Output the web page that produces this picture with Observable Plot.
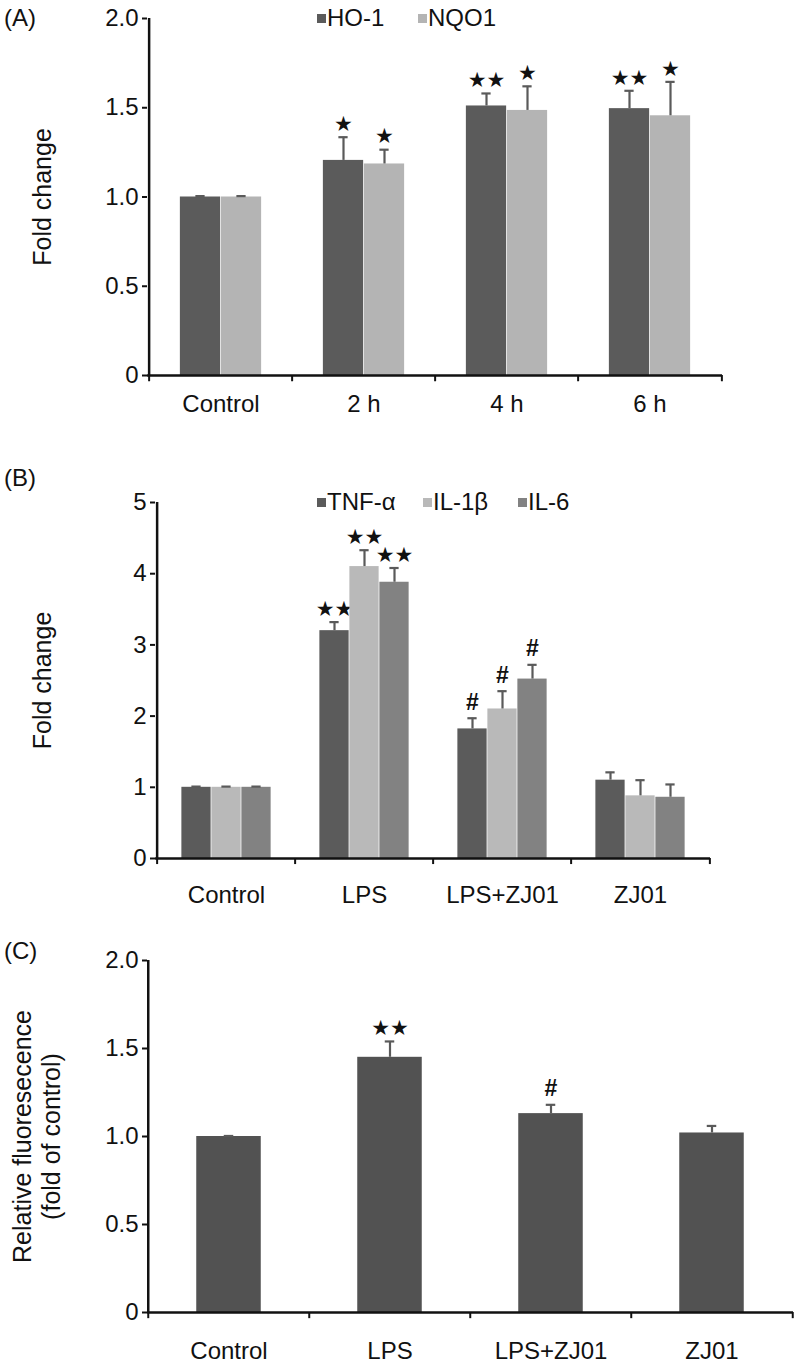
<!DOCTYPE html>
<html><head><meta charset="utf-8">
<script src="https://cdn.jsdelivr.net/npm/d3@7"></script>
<script src="https://cdn.jsdelivr.net/npm/@observablehq/plot@0.6"></script>
<style>
body{margin:0;background:#fff;}
#wrap{position:relative;width:800px;height:1368px;overflow:hidden;font-family:"Liberation Sans",Arial,sans-serif;color:#111;}
.panel{position:absolute;left:0;}
.plab{position:absolute;left:4px;font-size:24px;line-height:24px;}
.legtxt{position:absolute;font-size:24px;line-height:24px;white-space:nowrap;}
.sw{position:absolute;width:9px;height:9px;}
</style></head><body><div id="wrap"></div>
<script>
// ---------- data ----------
const catsA = ["Control", "2 h", "4 h", "6 h"];
const ho1 = [1.0, 1.205, 1.51, 1.495];
const ho1Err = [0.005, 0.13, 0.07, 0.10];
const ho1Sig = ["", "★", "★★", "★★"];
const nqo1 = [1.0, 1.185, 1.485, 1.455];
const nqo1Err = [0.005, 0.08, 0.135, 0.19];
const nqo1Sig = ["", "★", "★", "★"];
const ticksA = [0, 0.5, 1.0, 1.5, 2.0];

const catsB = ["Control", "LPS", "LPS+ZJ01", "ZJ01"];
const tnf = [1.0, 3.2, 1.82, 1.1];
const tnfErr = [0.01, 0.12, 0.15, 0.11];
const tnfSig = ["", "★★", "#", ""];
const il1b = [1.0, 4.1, 2.1, 0.88];
const il1bErr = [0.01, 0.23, 0.25, 0.22];
const il1bSig = ["", "★★", "#", ""];
const il6 = [1.0, 3.88, 2.52, 0.86];
const il6Err = [0.01, 0.2, 0.2, 0.18];
const il6Sig = ["", "★★", "#", ""];
const ticksB = [0, 1, 2, 3, 4, 5];

const catsC = ["Control", "LPS", "LPS+ZJ01", "ZJ01"];
const fluor = [1.0, 1.45, 1.13, 1.02];
const fluorErr = [0.003, 0.09, 0.05, 0.04];
const fluorSig = ["", "★★", "#", ""];
const ticksC = [0, 0.5, 1.0, 1.5, 2.0];

// ---------- drawing ----------
const wrap = document.getElementById("wrap");
const errColor = "#5a5a5a";
const axisColor = "#111";

function panel(cfg) {
  const {cats, series, domain, ticks, fmt, top, height, ml, mr, mt, mb, bw, ylabel, ylabelX, ylabelSize, xPad, tickLen} = cfg;
  const width = 800;
  const k = series.length;
  const B = (width - ml - mr) / cats.length;
  const yMax = domain[1];
  const marks = [];
  series.forEach((s, i) => {
    const rows = cats.map((c, j) => ({c, v: s.values[j], e: s.errs[j], sig: s.sigs[j]}));
    const left = B / 2 + (i - k / 2) * bw;
    const right = B - left - bw;
    const dx = (i - k / 2 + 0.5) * bw;
    marks.push(Plot.barY(rows, {x: "c", y: "v", fill: s.color, insetLeft: left, insetRight: right}));
    marks.push(Plot.ruleX(rows, {x: "c", y1: "v", y2: d => d.v + d.e, dx, stroke: errColor, strokeWidth: 2.2}));
    marks.push(Plot.tickY(rows, {x: "c", y: d => d.v + d.e, insetLeft: left + bw / 2 - 5, insetRight: right + bw / 2 - 5, stroke: errColor, strokeWidth: 2.2}));
    marks.push(Plot.text(rows.filter(d => d.sig.includes("★")), {x: "c", y: d => d.v + d.e, text: "sig", dx, dy: -13, fontSize: 21, fill: "#111", fontFamily: "DejaVu Sans", letterSpacing: -1}));
    marks.push(Plot.text(rows.filter(d => d.sig === "#"), {x: "c", y: d => d.v + d.e, text: "sig", dx, dy: -16, fontSize: 23, fill: "#111", fontWeight: "bold"}));
  });
  // axes lines
  marks.push(Plot.ruleY([0], {stroke: axisColor, strokeWidth: 2.5}));
  marks.push(Plot.ruleX([cats[0]], {x: d => d, y1: 0, y2: yMax, dx: -B / 2, stroke: axisColor, strokeWidth: 2.5}));
  marks.push(Plot.ruleX(cats, {x: d => d, y1: 0, y2: -tickLen, dx: -B / 2, stroke: axisColor, strokeWidth: 2}));
  marks.push(Plot.ruleX([cats[cats.length - 1]], {x: d => d, y1: 0, y2: -tickLen, dx: B / 2, stroke: axisColor, strokeWidth: 2}));
  marks.push(Plot.axisY({ticks, tickFormat: fmt, tickSize: 5, tickPadding: 4, fontSize: 24, label: null, stroke: axisColor, strokeWidth: 2}));
  marks.push(Plot.axisX({tickSize: 0, tickPadding: xPad, fontSize: 24, label: null}));
  // y label
  ylabel.forEach((t, li) => {
    marks.push(Plot.text([t], {text: d => d, frameAnchor: "left", textAnchor: "middle", rotate: -90, dx: ylabelX[li] - ml, fontSize: ylabelSize, fill: "#111"}));
  });
  const svg = Plot.plot({
    width, height,
    marginLeft: ml, marginRight: mr, marginTop: mt, marginBottom: mb,
    style: {fontFamily: "'Liberation Sans', Arial, sans-serif", color: "#111", background: "transparent", overflow: "visible"},
    x: {type: "band", domain: cats, padding: 0, axis: null},
    y: {domain, axis: null},
    marks
  });
  const d = document.createElement("div");
  d.className = "panel";
  d.style.top = top + "px";
  d.appendChild(svg);
  wrap.appendChild(d);
}

function legend(items, y) {
  items.forEach(([name, color, x]) => {
    const sw = document.createElement("div");
    sw.className = "sw";
    sw.style.background = color;
    sw.style.left = x + "px";
    sw.style.top = (y - 4) + "px";
    wrap.appendChild(sw);
    const t = document.createElement("div");
    t.className = "legtxt";
    t.textContent = name;
    t.style.left = (x + 10) + "px";
    t.style.top = (y - 12) + "px";
    wrap.appendChild(t);
  });
}

function plabel(text, top) {
  const d = document.createElement("div");
  d.className = "plab";
  d.textContent = text;
  d.style.top = top + "px";
  wrap.appendChild(d);
}

const fmt1 = v => v === 0 ? "0" : v.toFixed(1);

panel({
  cats: catsA,
  series: [
    {values: ho1, errs: ho1Err, sigs: ho1Sig, color: "#5b5b5b"},
    {values: nqo1, errs: nqo1Err, sigs: nqo1Sig, color: "#b4b4b4"}
  ],
  domain: [0, 2], ticks: ticksA, fmt: fmt1,
  top: 0, height: 420, ml: 147, mr: 78, mt: 18, mb: 45, bw: 41,
  ylabel: ["Fold change"], ylabelX: [42], ylabelSize: 25, xPad: 19, tickLen: 0.035
});
panel({
  cats: catsB,
  series: [
    {values: tnf, errs: tnfErr, sigs: tnfSig, color: "#5b5b5b"},
    {values: il1b, errs: il1bErr, sigs: il1bSig, color: "#b9b9b9"},
    {values: il6, errs: il6Err, sigs: il6Sig, color: "#828282"}
  ],
  domain: [0, 5], ticks: ticksB, fmt: v => String(v),
  top: 460, height: 440, ml: 155, mr: 90, mt: 42, mb: 42, bw: 30,
  ylabel: ["Fold change"], ylabelX: [42], ylabelSize: 25, xPad: 27, tickLen: 0.085
});
panel({
  cats: catsC,
  series: [
    {values: fluor, errs: fluorErr, sigs: fluorSig, color: "#525252"}
  ],
  domain: [0, 2], ticks: ticksC, fmt: fmt1,
  top: 930, height: 438, ml: 147, mr: 7, mt: 30, mb: 56, bw: 65,
  ylabel: ["Relative fluoresecence", "(fold of control)"], ylabelX: [22, 51], ylabelSize: 25, xPad: 29, tickLen: 0.035
});

legend([["HO-1", "#5b5b5b", 317], ["NQO1", "#b4b4b4", 418]], 18);
legend([["TNF-α", "#5b5b5b", 317], ["IL-1β", "#b9b9b9", 423], ["IL-6", "#828282", 518]], 502);
plabel("(A)", 6);
plabel("(B)", 466);
plabel("(C)", 939);
</script></body></html>
